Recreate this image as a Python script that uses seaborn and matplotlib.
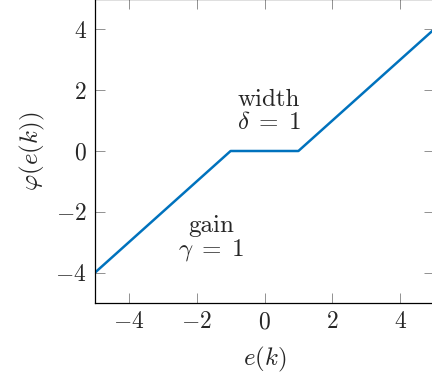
import numpy as np
import pandas as pd
import seaborn as sns
import matplotlib
matplotlib.use("Agg")
import matplotlib.pyplot as plt

# dead-zone characteristic: breakpoints
e_vals = [-5, -1, 1, 5]
phi_vals = [-4, 0, 0, 4]
x_ticks = [-4, -2, 0, 2, 4]
y_ticks = [-4, -2, 0, 2, 4]

sns.set_style("ticks")
plt.rcParams['font.family'] = ['cmr10', 'DejaVu Serif']
plt.rcParams['mathtext.fontset'] = 'cm'
plt.rcParams['axes.formatter.use_mathtext'] = True

df = pd.DataFrame({'e': e_vals, 'phi': phi_vals})

fig = plt.figure(figsize=(4.32, 3.83), dpi=100)
ax = fig.add_axes([95 / 432, 80 / 383, 339 / 432, 304 / 383])

sns.lineplot(data=df, x='e', y='phi', ax=ax, color='#0072BD', linewidth=1.8)

ax.set_xlim(-5, 5)
ax.set_ylim(-5, 5)
ax.set_xticks(x_ticks)
ax.set_yticks(y_ticks)
ax.set_xticklabels([f'${v}$' for v in x_ticks], fontsize=17)
ax.set_yticklabels([f'${v}$' for v in y_ticks], fontsize=17)
ax.tick_params(direction='in', length=7, width=0.6, color='#808080',
               top=True, right=True, pad=6)
for sp in ax.spines.values():
    sp.set_linewidth(0.9)
    sp.set_color('black')

ax.set_xlabel('$e(k)$', fontsize=18, labelpad=8)
ax.set_ylabel(r'$\varphi(e(k))$', fontsize=18, labelpad=6)

ax.text(0.12, 1.3, 'width\n' + r'$\delta\;=\;1$', ha='center', va='center',
        fontsize=18, linespacing=1.0)
ax.text(-1.57, -2.9, 'gain\n' + r'$\gamma\;=\;1$', ha='center', va='center',
        fontsize=18, linespacing=1.0)

fig.savefig('out.png', dpi=100)
